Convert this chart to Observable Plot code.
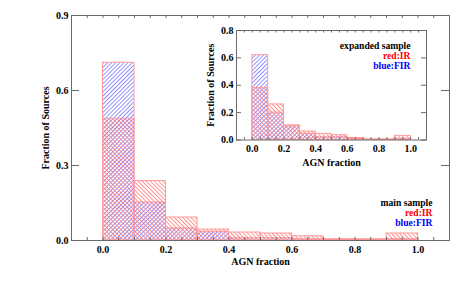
<!DOCTYPE html>
<html>
<head>
<meta charset="utf-8">
<script src="https://cdn.jsdelivr.net/npm/d3@7"></script>
<script src="https://cdn.jsdelivr.net/npm/@observablehq/plot@0.6"></script>
<style>
  html, body { margin: 0; padding: 0; background: white; }
  #wrap { position: relative; width: 472px; height: 284px; }
  #inset { position: absolute; left: 190px; top: 20px; }
  svg { overflow: visible; }
</style>
</head>
<body>
<div id="wrap"><div id="main"></div><div id="inset"></div></div>
<script>
// Bin left edges (width 0.1)
const binStarts = [0.0, 0.1, 0.2, 0.3, 0.4, 0.5, 0.6, 0.7, 0.8, 0.9];
// Main sample fractions
const mainIR  = [0.487, 0.238, 0.092, 0.044, 0.032, 0.028, 0.017, 0.005, 0.005, 0.028];
const mainFIR = [0.711, 0.152, 0.048, 0.035, 0.009, 0.009, 0.005, 0.004, 0.003, 0.005];
// Expanded sample fractions
const expIR   = [0.38, 0.26, 0.107, 0.062, 0.045, 0.035, 0.015, 0.004, 0.004, 0.03];
const expFIR  = [0.62, 0.20, 0.10, 0.045, 0.02, 0.02, 0.008, 0.003, 0.003, 0.008];
// Tick labels
const mainXTicks = [0.0, 0.2, 0.4, 0.6, 0.8, 1.0];
const mainYTicks = [0.0, 0.3, 0.6, 0.9];
const insetXTicks = [0.0, 0.2, 0.4, 0.6, 0.8, 1.0];
const insetYTicks = [0.0, 0.2, 0.4, 0.6, 0.8];
const minorX = d3.range(-0.05, 1.1, 0.05).map(v => +v.toFixed(2));

const binW = 0.1;
const mkRows = (ir, fir) => binStarts.map((b, i) => ({x1: b, x2: b + binW, ir: ir[i], fir: fir[i]}));
const mainRows = mkRows(mainIR, mainFIR);
const expRows = mkRows(expIR, expFIR);

const FONT = {fontFamily: "'Liberation Serif', 'DejaVu Serif', serif", fontWeight: "bold", fontSize: "10px", background: "transparent", color: "black"};
const FRAME = "#6a6a6a";

function addPatterns(svg, pre) {
  const defs = d3.select(svg).insert("defs", ":first-child");
  const mk = (id, rot, color) => {
    const p = defs.append("pattern").attr("id", pre + id)
      .attr("patternUnits", "userSpaceOnUse").attr("width", 2.9).attr("height", 2.9)
      .attr("patternTransform", `rotate(${rot})`);
    p.append("line").attr("x1", 1.45).attr("x2", 1.45).attr("y1", -1).attr("y2", 4)
      .attr("stroke", color).attr("stroke-width", 0.75);
  };
  mk("blue", 45, "#7070ff");
  mk("red", -45, "#ff7070");
}

function hist(rows, pre, opts) {
  const {H, xt, yt, yLen, xLen, xPad, yPad, labDy, ylabDx, xmin, ymid} = opts;
  return [
    Plot.rectY(rows, {x1: "x1", x2: "x2", y: "fir", fill: `url(#${pre}blue)`, stroke: "#ff9a9a", strokeWidth: 1}),
    Plot.rectY(rows, {x1: "x1", x2: "x2", y: "ir", fill: `url(#${pre}red)`, stroke: "#ff9a9a", strokeWidth: 1}),
    Plot.frame({stroke: FRAME}),
    // inward ticks
    Plot.ruleX(minorX, {x: d => d, insetTop: H - xLen, stroke: FRAME}),
    Plot.ruleX(minorX, {x: d => d, insetBottom: H - xLen, stroke: FRAME}),
    Plot.ruleY(yt, {y: d => d, insetRight: opts.W - yLen, stroke: FRAME}),
    Plot.ruleY(yt, {y: d => d, insetLeft: opts.W - yLen, stroke: FRAME}),
    Plot.axisX(xt, {tickSize: 0, tickPadding: xPad, tickFormat: d3.format(".1f"), label: null}),
    Plot.axisY(yt, {tickSize: 0, tickPadding: yPad, tickFormat: d3.format(".1f"), label: null}),
    Plot.text(["AGN fraction"], {frameAnchor: "bottom", dy: labDy, lineAnchor: "middle", text: d => d}),
    Plot.text(["Fraction of Sources"], {x: () => xmin, y: () => ymid, dx: ylabDx, rotate: -90, textAnchor: "middle", lineAnchor: "middle", text: d => d})
  ];
}

// Main plot
const mW = 472, mH = 284, mL = 71, mR = 23, mT = 15, mB = 44;
const mainSvg = Plot.plot({
  width: mW, height: mH, marginLeft: mL, marginRight: mR, marginTop: mT, marginBottom: mB,
  style: FONT,
  x: {domain: [-0.1, 1.1]},
  y: {domain: [0, 0.9]},
  marks: [
    ...hist(mainRows, "m", {H: mH - mT - mB, W: mW - mL - mR, xt: mainXTicks, yt: mainYTicks, yLen: 8, xLen: 3, xPad: 5, yPad: 3, labDy: 21.5, ylabDx: -26, xmin: -0.1, ymid: 0.45}),
    Plot.text(["main sample"], {frameAnchor: "bottom-right", dx: -17, dy: -37.5, lineAnchor: "middle", textAnchor: "end", text: d => d, fill: "black", fontSize: 9.6}),
    Plot.text(["red:IR"], {frameAnchor: "bottom-right", dx: -17, dy: -27.7, lineAnchor: "middle", textAnchor: "end", text: d => d, fill: "#ff0000", fontSize: 9.6}),
    Plot.text(["blue:FIR"], {frameAnchor: "bottom-right", dx: -17, dy: -18, lineAnchor: "middle", textAnchor: "end", text: d => d, fill: "#0000ff", fontSize: 9.6})
  ]
});
addPatterns(mainSvg, "m");
document.getElementById("main").appendChild(mainSvg);

// Inset plot
const iW = 250, iH = 155, iL = 46, iR = 14, iT = 10, iB = 35.5;
const insetSvg = Plot.plot({
  width: iW, height: iH, marginLeft: iL, marginRight: iR, marginTop: iT, marginBottom: iB,
  style: FONT,
  x: {domain: [-0.1, 1.1]},
  y: {domain: [0, 0.8]},
  marks: [
    ...hist(expRows, "i", {H: iH - iT - iB, W: iW - iL - iR, xt: insetXTicks, yt: insetYTicks, yLen: 5, xLen: 2.5, xPad: 5, yPad: 3, labDy: 22.8, ylabDx: -26, xmin: -0.1, ymid: 0.4}),
    Plot.text(["expanded sample"], {frameAnchor: "top-right", dx: -16, dy: 15, lineAnchor: "middle", textAnchor: "end", text: d => d, fill: "black", fontSize: 9.6}),
    Plot.text(["red:IR"], {frameAnchor: "top-right", dx: -16, dy: 25.5, lineAnchor: "middle", textAnchor: "end", text: d => d, fill: "#ff0000", fontSize: 9.6}),
    Plot.text(["blue:FIR"], {frameAnchor: "top-right", dx: -16, dy: 35, lineAnchor: "middle", textAnchor: "end", text: d => d, fill: "#0000ff", fontSize: 9.6})
  ]
});
addPatterns(insetSvg, "i");
document.getElementById("inset").appendChild(insetSvg);
</script>
</body>
</html>
